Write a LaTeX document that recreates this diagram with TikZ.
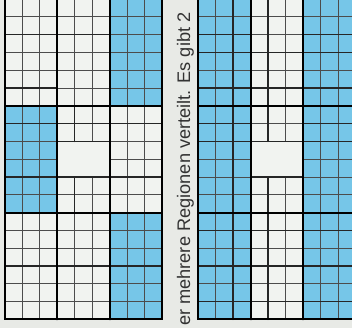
\documentclass[tikz,border=0pt]{standalone}
\usepackage{fontspec}
\usepackage{xcolor}
\newfontfamily\captionfont{Liberation Sans}

\definecolor{regionblue}{RGB}{118,198,232}
\definecolor{paper}{RGB}{232,234,230}
\definecolor{cellwhite}{RGB}{241,243,240}

\begin{document}
\begin{tikzpicture}[x=1pt,y=-1pt,line cap=round,
  thinline/.style={black!70,line width=0.8pt},
  midline/.style={black!85,line width=1.3pt},
  boldline/.style={black,line width=2pt}]
\useasboundingbox (0,0) rectangle (352,328);
\fill[paper] (0,0) rectangle (352,328);
\clip (0,0) rectangle (352,328);
% left grid
\begin{scope}[xshift=5pt,yshift=1pt,x=17.44pt,y=-17.8pt]
\fill[cellwhite] (0,0) rectangle (9,18);
\fill[regionblue] (6,0) rectangle (9,6);
\fill[regionblue] (0,6) rectangle (3,12);
\fill[regionblue] (6,12) rectangle (9,18);
\foreach \c in {1,...,8} \draw[thinline] (\c,0) -- (\c,18);
\foreach \r in {1,...,17} \draw[thinline] (0,\r) -- (9,\r);
\fill[cellwhite] (3,8) rectangle (6,10);
\draw[midline] (0,2) -- (6,2);
\draw[midline] (0,5) -- (3,5);
\draw[midline] (0,7) -- (9,7);
\draw[midline] (3,8) -- (6,8);
\draw[midline] (0,10) -- (9,10);
\draw[midline] (0,15) -- (9,15);
\draw[midline] (4,6) -- (4,8);
\draw[midline] (4,10) -- (4,12);
\draw[boldline] (0,0) -- (0,18) -- (9,18) -- (9,0);
\draw[boldline] (3,0) -- (3,18);
\draw[boldline] (6,0) -- (6,18);
\draw[boldline] (0,6) -- (9,6);
\draw[boldline] (0,12) -- (9,12);
\end{scope}
% right grid
\begin{scope}[xshift=198pt,yshift=1pt,x=17.5pt,y=-17.8pt]
\fill[regionblue] (0,0) rectangle (3,18);
\fill[cellwhite] (3,0) rectangle (6,18);
\fill[regionblue] (6,0) rectangle (9,18);
\foreach \c in {1,...,8} \draw[thinline] (\c,0) -- (\c,18);
\foreach \r in {1,...,17} \draw[thinline] (0,\r) -- (9,\r);
\fill[cellwhite] (3,8) rectangle (6,10);
\draw[midline] (2,0) -- (2,18);
\draw[midline] (4,0) -- (4,8);
\draw[midline] (4,10) -- (4,18);
\draw[midline] (0,2) -- (3,2);
\draw[midline] (6,2) -- (9,2);
\draw[midline] (0,3) -- (9,3);
\draw[midline] (0,5) -- (9,5);
\draw[midline] (0,7) -- (3,7);
\draw[midline] (6,7) -- (9,7);
\draw[midline] (0,8) -- (9,8);
\draw[midline] (3,10) -- (6,10);
\draw[midline] (0,13) -- (9,13);
\draw[midline] (0,15) -- (9,15);
\draw[midline] (0,17) -- (9,17);
\draw[boldline] (0,0) -- (0,18) -- (9,18) -- (9,0);
\draw[boldline] (3,0) -- (3,18);
\draw[boldline] (6,0) -- (6,18);
\draw[boldline] (0,6) -- (9,6);
\draw[boldline] (0,12) -- (9,12);
\end{scope}
% rotated caption text
\node[rotate=90,anchor=base west,inner sep=0pt,text=black!80,
  font=\captionfont\fontsize{18.2}{18.2}\selectfont] (caption) at (190,326)
  {er mehrere Regionen verteilt. Es gibt 2};
\end{tikzpicture}
\end{document}
